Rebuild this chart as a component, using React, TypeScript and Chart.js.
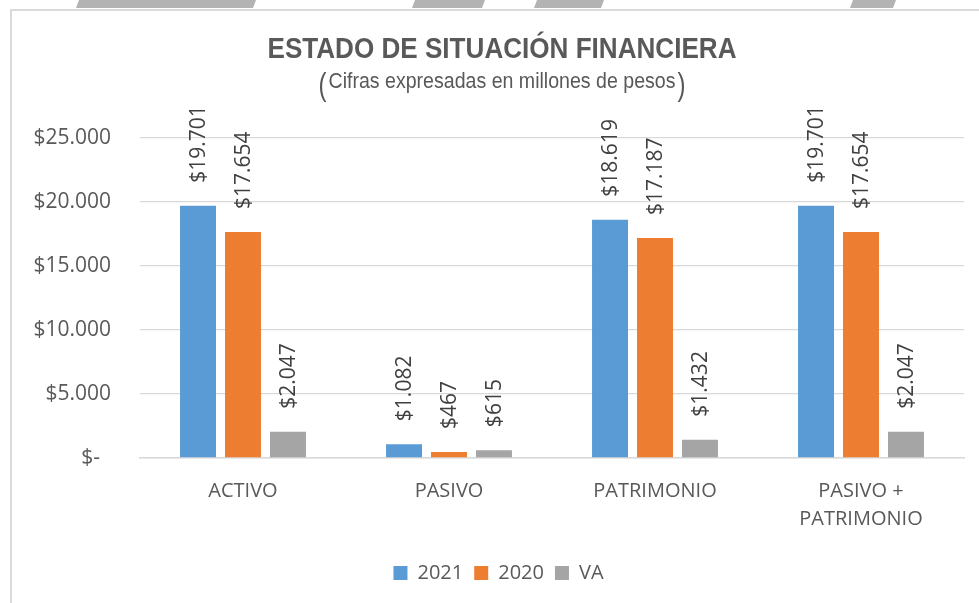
import { useEffect, useRef } from "react";
import { Chart, registerables } from "chart.js";

Chart.register(...registerables);

const categories: (string | string[])[] = ["ACTIVO", "PASIVO", "PATRIMONIO", ["PASIVO +", "PATRIMONIO"]];
const seriesNames = ["2021", "2020", "VA"];
const values2021 = [19701, 1082, 18619, 19701];
const values2020 = [17654, 467, 17187, 17654];
const valuesVA = [2047, 615, 1432, 2047];
const seriesColors = ["#5B9BD5", "#ED7D31", "#A5A5A5"];
const yMax = 25000;
const yStep = 5000;

const titleText = "ESTADO DE SITUACIÓN FINANCIERA";
const subtitleText = "Cifras expresadas en millones de pesos";

const fmt = (n: number) => String(n).replace(/\B(?=(\d{3})+(?!\d))/g, ".");

const SANS = '"Liberation Sans", Arial, sans-serif';
const BODY = '"Open Sans", "Noto Sans", sans-serif';

const framePlugin = {
  id: "frame",
  beforeDraw(chart: any) {
    const ctx = chart.ctx;
    ctx.save();
    ctx.fillStyle = "#b3b3b3";
    const strips = [[76, 256], [412, 485], [534, 604], [850, 896]];
    strips.forEach(([a, b]) => {
      ctx.beginPath();
      ctx.moveTo(a + 3, 0);
      ctx.lineTo(b, 0);
      ctx.lineTo(b - 3, 8);
      ctx.lineTo(a, 8);
      ctx.closePath();
      ctx.fill();
    });
    ctx.strokeStyle = "#d9d9d9";
    ctx.lineWidth = 2;
    ctx.beginPath();
    ctx.moveTo(11, chart.height);
    ctx.lineTo(11, 10);
    ctx.lineTo(chart.width, 10);
    ctx.stroke();
    ctx.restore();
  },
};

function drawNarrow(ctx: any, text: string, cx: number, y: number, targetW: number) {
  const w = ctx.measureText(text).width;
  const s = targetW / w;
  ctx.save();
  ctx.translate(cx, y);
  ctx.scale(s, 1);
  ctx.textAlign = "center";
  ctx.fillText(text, 0, 0);
  ctx.restore();
}

const headerPlugin = {
  id: "header",
  afterDraw(chart: any) {
    const ctx = chart.ctx;
    const cx = 502;
    ctx.save();
    ctx.fillStyle = "#595959";
    ctx.textBaseline = "alphabetic";
    ctx.font = `bold 29px ${SANS}`;
    drawNarrow(ctx, titleText, cx, 58, 469);
    ctx.font = `22px ${SANS}`;
    const subW = 347;
    drawNarrow(ctx, subtitleText, cx, 88, subW);
    ctx.font = `31px ${SANS}`;
    drawNarrow(ctx, "(", cx - subW / 2 - 6, 95, 8);
    drawNarrow(ctx, ")", cx + subW / 2 + 6, 95, 8);
    ctx.restore();
  },
};

const dataLabelPlugin = {
  id: "barLabels",
  afterDatasetsDraw(chart: any) {
    const ctx = chart.ctx;
    ctx.save();
    ctx.fillStyle = "#404040";
    ctx.font = `21px ${BODY}`;
    ctx.textAlign = "left";
    ctx.textBaseline = "middle";
    chart.data.datasets.forEach((ds: any, i: number) => {
      const meta = chart.getDatasetMeta(i);
      meta.data.forEach((bar: any, j: number) => {
        ctx.save();
        ctx.translate(bar.x + 1, bar.y - 23);
        ctx.rotate(-Math.PI / 2);
        ctx.fillText("$" + fmt(ds.data[j]), 0, 0);
        ctx.restore();
      });
    });
    ctx.restore();
  },
};

export default function App() {
  const ref = useRef<HTMLCanvasElement | null>(null);
  useEffect(() => {
    if (!ref.current) return;
    const series = [values2021, values2020, valuesVA];
    const chart = new Chart(ref.current, {
      type: "bar",
      data: {
        labels: categories as any,
        datasets: series.map((d, i) => ({
          label: seriesNames[i],
          data: d,
          backgroundColor: seriesColors[i],
          borderWidth: 0,
          categoryPercentage: 0.655,
          barPercentage: 0.8,
        })),
      },
      options: {
        animation: false,
        responsive: false,
        maintainAspectRatio: false,
        layout: { padding: { top: 138, left: 33, right: 15, bottom: 10 } },
        plugins: {
          title: { display: false },
          tooltip: { enabled: false },
          legend: {
            position: "bottom",
            labels: {
              color: "#595959",
              font: { family: BODY, size: 20 },
              boxWidth: 14,
              boxHeight: 14,
              padding: 11,
            },
          },
        },
        scales: {
          x: {
            grid: { display: false, drawTicks: false },
            border: { display: true, color: "#d9d9d9", width: 1.5 },
            ticks: {
              color: "#595959",
              font: { family: BODY, size: 20, lineHeight: 1.4 },
              padding: 19,
              maxRotation: 0,
              autoSkip: false,
            },
          },
          y: {
            min: 0,
            max: yMax,
            afterFit: (scale: any) => {
              scale.width = 107;
            },
            grid: { color: "#d9d9d9", lineWidth: 1.3, drawTicks: false },
            border: { display: false },
            ticks: {
              stepSize: yStep,
              color: "#595959",
              font: { family: BODY, size: 21 },
              padding: 29,
              callback: (v: any) => (Number(v) === 0 ? "$-\u00A0\u00A0" : "$" + fmt(Number(v))),
            },
          },
        },
      },
      plugins: [framePlugin, headerPlugin, dataLabelPlugin],
    });
    return () => chart.destroy();
  }, []);
  return (
    <div style={{ position: "absolute", left: 0, top: 0, width: 979, height: 603, background: "#fff" }}>
      <canvas ref={ref} width={979} height={603} style={{ width: 979, height: 603, display: "block" }} />
    </div>
  );
}
